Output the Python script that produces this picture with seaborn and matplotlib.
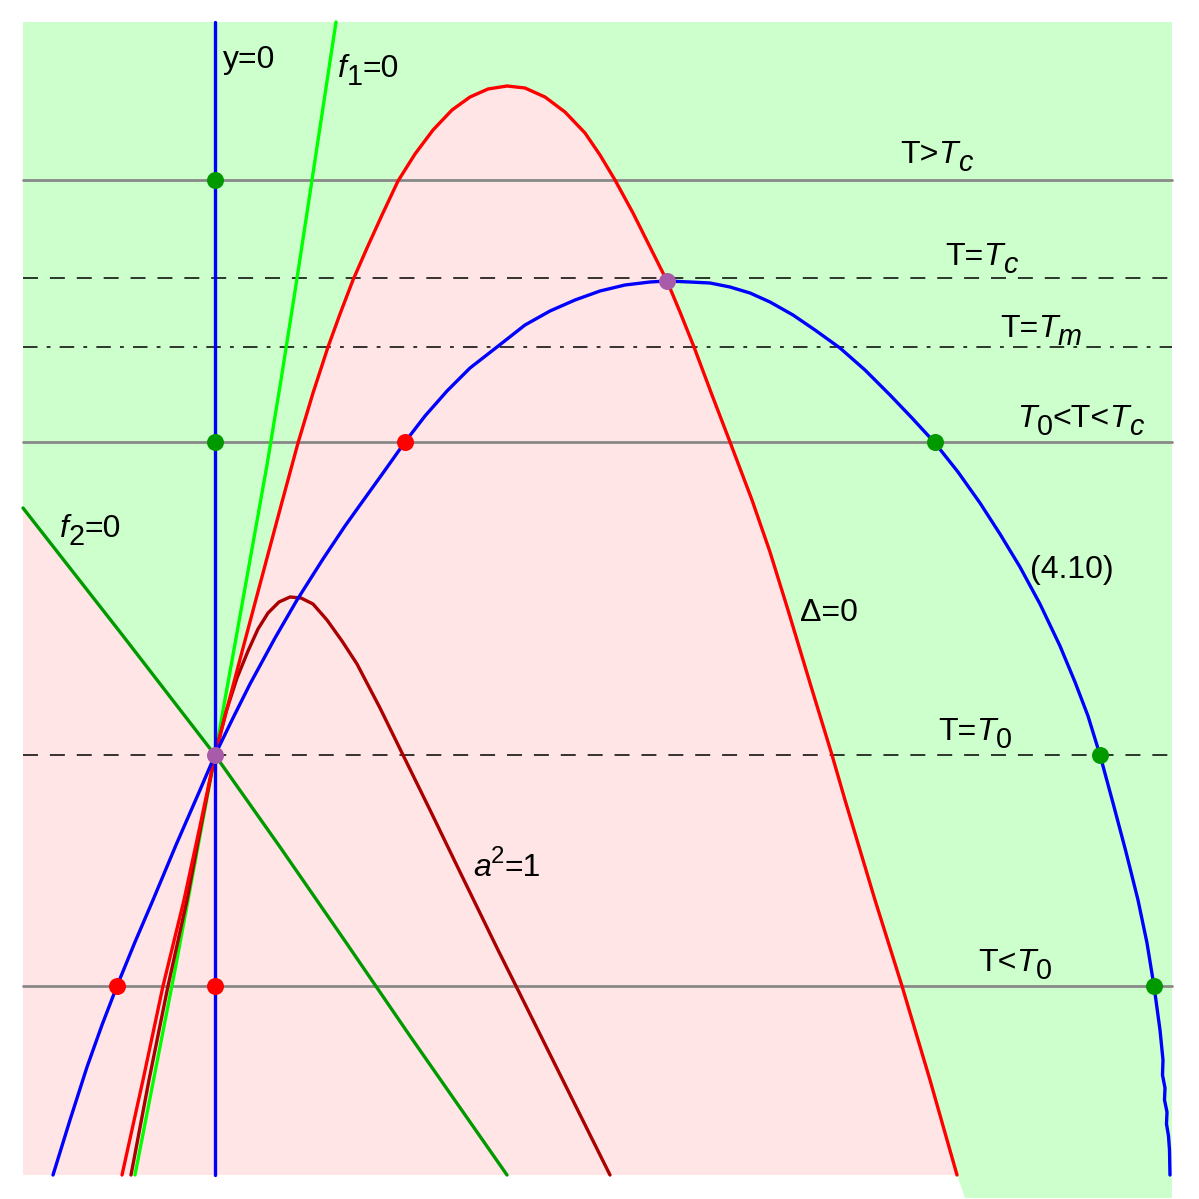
import matplotlib
matplotlib.use("Agg")
import matplotlib.pyplot as plt
import pandas as pd
import seaborn as sns

# picture coordinates (pixels, y grows downward)
FRAME_X = [23, 1172]
FRAME_Y = [22, 1175]
GREEN_EXT_X = [957, 965, 1172, 1172]
GREEN_EXT_Y = [1175, 1198, 1198, 1175]

# Delta = 0 (red)
delta_x = [122, 143, 163, 184, 200, 215, 229, 243, 255, 267, 282, 298, 313, 328, 340, 353,
           367, 382, 398, 415, 433, 452, 470, 488, 507, 525, 545, 565, 585, 600, 615, 633,
           650, 667, 680, 694, 712, 730, 752, 770, 788, 810, 832, 845, 875, 902, 930, 957]
delta_y = [1175, 1080, 986, 900, 826, 755, 701, 648, 603, 558, 502, 443, 393, 347, 314, 280,
           248, 215, 181, 154, 130, 110, 97, 89, 86, 88, 97, 112, 133, 155, 180, 213,
           247, 281, 312, 347, 395, 442, 500, 552, 610, 683, 755, 800, 900, 986, 1080, 1175]
DELTA_CENTER = 5  # index of the common point

# (4.10) (blue)
eq_x = [53, 70, 87, 102, 117, 135, 153, 176, 200, 215, 233, 250, 275, 297, 323, 345, 360,
        383, 405, 425, 447, 470, 497, 525, 550, 575, 600, 625, 650, 667, 690, 710, 730,
        750, 770, 793, 815, 840, 865, 890, 912, 935, 958, 980, 1000, 1020, 1040, 1060,
        1075, 1088, 1100, 1113, 1126, 1138, 1147, 1154, 1160, 1163, 1162.5, 1165, 1164.5,
        1167, 1166.5, 1168.5, 1169.5, 1170]
eq_y = [1175, 1120, 1067, 1025, 986, 942, 900, 845, 790, 755, 718, 684, 638, 600, 559, 526,
        505, 473, 442, 416, 391, 368, 347, 325, 311, 300, 291, 285, 282, 281, 282, 283, 287,
        293, 302, 315, 330, 348, 370, 395, 418, 443, 472, 503, 534, 567, 604, 646,
        682, 716, 755, 803, 852, 900, 943, 986, 1030, 1060, 1075, 1088, 1100,
        1112, 1124, 1136, 1150, 1175]

# a^2 = 1 (dark red)
a2_x = [131, 149, 168, 187, 201, 215, 226, 237, 248, 258, 268, 279, 290, 301, 313, 327, 342,
        357, 380, 403, 430, 460, 498, 517, 610]
a2_y = [1175, 1080, 986, 900, 826, 755, 712, 678, 651, 629, 613, 602, 597, 598, 604, 620, 641,
        664, 708, 755, 810, 872, 950, 988, 1175]

# f1 = 0 (light green)
f1_x = [336, 312, 296, 281, 267, 250, 233, 215, 175, 135]
f1_y = [22, 180, 285, 380, 465, 560, 655, 755, 970, 1175]

# f2 = 0 (dark green)
f2_x = [23, 120, 215, 280, 345, 410, 507]
f2_y = [508, 632, 755, 847, 941, 1036, 1175]
F2_CENTER = 2

# y = 0 (blue vertical)
y0_x = [215, 215]
y0_y = [22, 1175]

# temperature levels
level_y = [180, 278, 347, 442, 755, 986]
level_style = ["solid", "dashed", "dashdot", "solid", "dashed", "solid"]

# marked points
pts_x = [215, 215, 935, 1100, 1154, 405, 117, 215, 667, 215]
pts_y = [180, 442, 442, 755, 986, 442, 986, 986, 281, 755]
pts_kind = ["g", "g", "g", "g", "g", "r", "r", "r", "p", "p"]

# labels: (x, baseline y, parts) ; part = (text, italic, size factor, shift px)
SUB = (0.9, -8)
SUP = (0.75, 13)
labels = [
    (223, 68, [("y=0", False, 1, 0)]),
    (338, 77, [("f", True, 1, 0), ("1", False, *SUB), ("=0", False, 1, 0)]),
    (900, 163, [("T>", False, 1, 0), ("T", True, 1, 0), ("c", True, *SUB)]),
    (945, 265, [("T=", False, 1, 0), ("T", True, 1, 0), ("c", True, *SUB)]),
    (1000, 337, [("T=", False, 1, 0), ("T", True, 1, 0), ("m", True, *SUB)]),
    (1017, 427, [("T", True, 1, 0), ("0", False, *SUB), ("<T<", False, 1, 0),
                 ("T", True, 1, 0), ("c", True, *SUB)]),
    (60, 537, [("f", True, 1, 0), ("2", False, *SUB), ("=0", False, 1, 0)]),
    (1030, 578, [("(4.10)", False, 1, 0)]),
    (800, 621, [("\u0394=0", False, 1, 0)]),
    (938, 740, [("T=", False, 1, 0), ("T", True, 1, 0), ("0", False, *SUB)]),
    (473, 876, [("a", True, 1, 0), ("2", False, *SUP), ("=1", False, 1, 0)]),
    (978, 971, [("T<", False, 1, 0), ("T", True, 1, 0), ("0", False, *SUB)]),
]

GREEN_BG = "#CCFFCC"
PINK_BG = "#FFE5E5"
point_colors = {"g": "#009900", "r": "#FF0000", "p": "#A85BA8"}
dash_styles = {"dashed": (0, (9.8, 7.8)), "dashdot": (0, (9.5, 6, 2.5, 6))}

sns.set_theme(style="white")
plt.rcParams["font.family"] = ["Liberation Sans", "DejaVu Sans"]
FS = 23

fig = plt.figure(figsize=(11.99, 11.99), dpi=100)
ax = fig.add_axes([0, 0, 1, 1])
ax.set_xlim(0, 1199)
ax.set_ylim(1199, 0)
ax.axis("off")

# background regions
ax.fill([FRAME_X[0], FRAME_X[1], FRAME_X[1], FRAME_X[0]],
        [FRAME_Y[0], FRAME_Y[0], FRAME_Y[1], FRAME_Y[1]], color=GREEN_BG, lw=0, zorder=0)
ax.fill(GREEN_EXT_X, GREEN_EXT_Y, color=GREEN_BG, lw=0, zorder=0)
pink_x = f2_x[:F2_CENTER + 1] + delta_x[DELTA_CENTER:] + [FRAME_X[0]]
pink_y = f2_y[:F2_CENTER + 1] + delta_y[DELTA_CENTER:] + [FRAME_Y[1]]
ax.fill(pink_x, pink_y, color=PINK_BG, lw=0, zorder=0.5)

# horizontal levels
for ly, st in zip(level_y, level_style):
    if st == "solid":
        ax.plot(FRAME_X, [ly, ly], color="#888888", linewidth=2.0, zorder=1)
    else:
        ax.plot(FRAME_X, [ly, ly], color="black", linewidth=1.1,
                linestyle=dash_styles[st], zorder=1)


def curve(xs, ys, color):
    sns.lineplot(x=xs, y=ys, sort=False, estimator=None, color=color, linewidth=2.4,
                 ax=ax, zorder=2)


curve(f2_x, f2_y, "#009900")
curve(f1_x, f1_y, "#00FF00")
curve(a2_x, a2_y, "#AA0000")
curve(delta_x, delta_y, "#FF0000")
curve(eq_x, eq_y, "#0000FF")
curve(y0_x, y0_y, "#0000FF")

pts = pd.DataFrame({"x": pts_x, "y": pts_y, "kind": pts_kind})
for k, sub in pts.groupby("kind"):
    sns.scatterplot(data=sub, x="x", y="y", color=point_colors[k], s=150, linewidth=0,
                    ax=ax, zorder=3)

# labels with sub/superscripts
for lx, ly, parts in labels:
    prev = None
    for txt, italic, scale, shift in parts:
        style = "italic" if italic else "normal"
        if prev is None:
            prev = ax.text(lx, ly, txt, fontsize=FS * scale, fontstyle=style, color="black",
                           ha="left", va="baseline", zorder=4)
        else:
            prev = ax.annotate(txt, xy=(1, ly), xycoords=(prev, "data"),
                               xytext=(0, shift * 0.72), textcoords="offset points",
                               fontsize=FS * scale, fontstyle=style, color="black",
                               ha="left", va="baseline", zorder=4)

fig.savefig("out.png", dpi=100)
